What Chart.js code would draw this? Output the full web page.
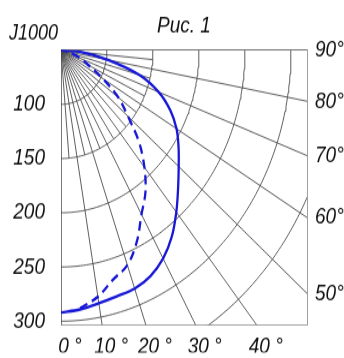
<!DOCTYPE html>
<html>
<head>
<meta charset="utf-8">
<script src="https://cdn.jsdelivr.net/npm/chart.js@4"></script>
<style>
  html, body { margin: 0; padding: 0; background: #fff; }
  body { width: 344px; height: 358px; overflow: hidden; }
  #wrap { width: 344px; height: 298px; transform: scaleY(1.2013); transform-origin: 0 0; }
</style>
</head>
<body>
<div id="wrap"><canvas id="chart" width="344" height="298"></canvas></div>
<script>
// angles from the vertical, degrees
const angles = [0, 5, 10, 15, 20, 25, 30, 35, 40, 45, 50, 55, 60, 65, 70, 75, 80, 85, 90];
// J / 1000, solid curve
const solidValues = [242, 240, 237, 235, 234, 230, 222, 210, 195, 180, 167, 156, 145, 131, 113, 88, 52, 24, 0];
const dashedAngles = [5, 10, 15, 20, 25, 30, 35, 40, 45, 50, 55, 60, 65, 70, 75, 80, 85, 90];
const dashedValues = [239, 231, 219, 211, 195, 175, 160, 141, 120, 95, 76, 52, 33, 23, 12, 5, 2, 0];

const arcRadii = [50, 100, 150, 200, 250, 300];
const leftLabels = ['100', '150', '200', '250', '300'];
const rayAngles = [10, 20, 30, 40, 50, 60, 70, 80];
const shortRayAngles = [5, 15, 25, 35, 45, 55, 65, 75, 85];
const bottomAngles = [0, 10, 20, 30, 40];
const rightAngles = [90, 80, 70, 60, 50];

const X_MAX = 267.4, Y_MAX = 253.6;
const rad = d => d * Math.PI / 180;
const polar = (a, r) => ({ x: r * Math.sin(rad(a)), y: r * Math.cos(rad(a)) });

const fontFam = "'Liberation Sans Narrow', 'Liberation Sans', Arial, sans-serif";
const blue = '#1717d6';
const gridCol = '#4c4c4c';

const datasets = [];
datasets.push({
    data: angles.map((a, i) => polar(a, solidValues[i])),
    borderColor: blue, borderWidth: 2.3, tension: 0.35
});
datasets.push({
    data: dashedAngles.map((a, i) => polar(a, dashedValues[i])),
    borderColor: blue, borderWidth: 2.3, borderDash: [8, 5], tension: 0.35
});
// arcs
arcRadii.forEach(r => {
    const pts = [];
    for (let a = 0; a <= 90; a += 1) pts.push(polar(a, r));
    datasets.push({ data: pts, borderColor: gridCol, borderWidth: 0.9 });
});
// long rays up to the frame
rayAngles.forEach(a => {
    const end = Math.min(X_MAX / Math.sin(rad(a)), Y_MAX / Math.cos(rad(a)));
    datasets.push({ data: [polar(a, 0), polar(a, end)], borderColor: gridCol, borderWidth: 0.9 });
});
// short rays near the origin
shortRayAngles.forEach(a => {
    datasets.push({ data: [polar(a, 0), polar(a, 100)], borderColor: gridCol, borderWidth: 0.9 });
});
datasets.forEach(d => { d.showLine = true; d.pointRadius = 0; d.pointHoverRadius = 0; d.fill = false; });

const bottomTicks = bottomAngles.map(a => Y_MAX * Math.tan(rad(a)));
const rightTicks = rightAngles.map(a => X_MAX / Math.tan(rad(a)));

const tickFont = { family: fontFam, size: 19, style: 'italic' };

// "J1000" in the corner
const cornerText = {
    id: 'cornerText',
    afterDraw(chart) {
        const ctx = chart.ctx;
        ctx.save();
        ctx.font = 'italic 18px ' + fontFam;
        ctx.fillStyle = '#111';
        ctx.textBaseline = 'middle';
        ctx.fillText('J1000', 9, 27.5);
        ctx.restore();
    }
};

new Chart(document.getElementById('chart'), {
    type: 'scatter',
    data: { datasets: datasets },
    plugins: [cornerText],
    options: {
        responsive: false,
        devicePixelRatio: 1,
        animation: false,
        events: [],
        layout: { padding: 0 },
        plugins: {
            legend: { display: false },
            tooltip: { enabled: false },
            title: {
                display: true, text: 'Рис. 1', fullSize: false, color: '#111',
                font: { family: fontFam, size: 19, style: 'italic', weight: 'normal' },
                padding: { top: 10, bottom: 8.9 }
            }
        },
        scales: {
            x: {
                type: 'linear', position: 'bottom', min: 0, max: X_MAX,
                grid: { display: false, drawTicks: false },
                border: { display: true, color: '#a0a0a0', width: 1 },
                afterBuildTicks: s => { s.ticks = bottomTicks.map(v => ({ value: v })); },
                afterFit: s => { s.height = 23; },
                ticks: {
                    autoSkip: false, maxRotation: 0, padding: 7, labelOffset: 9,
                    color: '#111', font: tickFont,
                    callback: (v, i) => bottomAngles[i] + ' °'
                }
            },
            x2: {
                type: 'linear', position: 'top', min: 0, max: X_MAX,
                grid: { display: false, drawTicks: false },
                border: { display: true, color: '#777', width: 1 },
                ticks: { display: false },
                afterFit: s => { s.height = 0; }
            },
            y: {
                type: 'linear', position: 'left', min: 0, max: Y_MAX, reverse: true,
                grid: { display: false, drawTicks: false },
                border: { display: true, color: '#777', width: 1 },
                afterBuildTicks: s => { s.ticks = arcRadii.slice(0, 5).map(v => ({ value: v })); },
                afterFit: s => { s.width = 61; },
                ticks: {
                    autoSkip: false, padding: 16, color: '#111', font: tickFont,
                    callback: (v, i) => leftLabels[i]
                }
            },
            y2: {
                type: 'linear', position: 'right', min: 0, max: Y_MAX, reverse: true,
                grid: { display: false, drawTicks: false },
                border: { display: true, color: '#a0a0a0', width: 1 },
                afterBuildTicks: s => { s.ticks = rightTicks.map(v => ({ value: v })); },
                afterFit: s => { s.width = 37; },
                ticks: {
                    autoSkip: false, padding: 8, color: '#111', font: tickFont,
                    callback: (v, i) => rightAngles[i] + '°'
                }
            }
        }
    }
});
</script>
</body>
</html>
